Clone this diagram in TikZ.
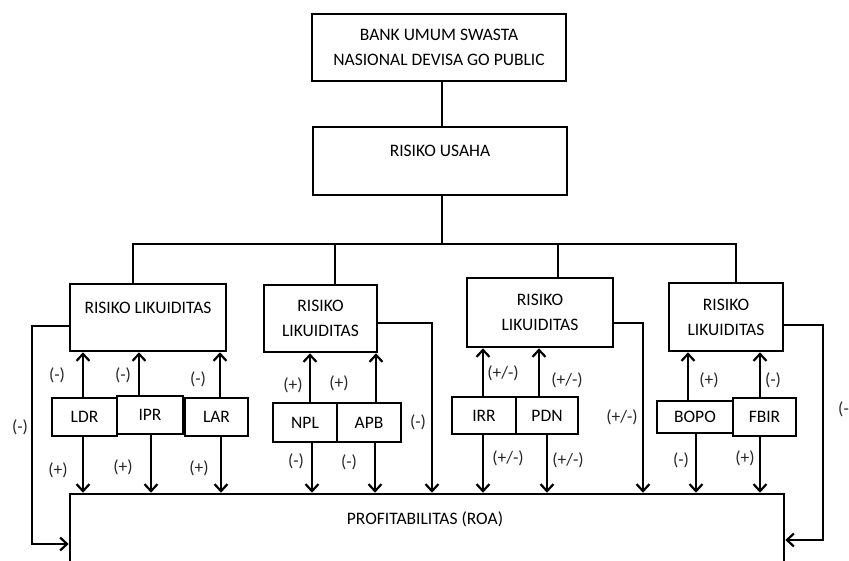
\documentclass[tikz,border=0pt]{standalone}
\usepackage{fontspec}
\setmainfont{Carlito}
\usetikzlibrary{arrows.meta}
\begin{document}
\begin{tikzpicture}[x=1pt,y=-1pt,
  ln/.style={line width=2.6pt},
  arr/.style={ln,-{Straight Barb[length=7pt,width=13pt,line width=2.2pt]}},
  bx/.style={draw,line width=2.6pt,inner sep=0pt,align=center,font=\fontsize{17.5}{25}\selectfont,text=black},
  txt/.style={inner sep=0pt,align=center,font=\fontsize{17.5}{25}\selectfont,text=black},
  lbl/.style={inner sep=0pt,font=\fontsize{17.5}{21}\selectfont,text=black!85}]
\useasboundingbox[fill=white] (0,0) rectangle (849,561);

% top boxes
\node[bx,minimum width=254pt,minimum height=67pt] (bank) at (439,47.5) {BANK UMUM SWASTA\\NASIONAL DEVISA GO PUBLIC};
\node[bx,minimum width=254pt,minimum height=68pt] (usaha) at (440,161) {};
\node[txt] (usahat) at (440,151) {RISIKO USAHA};

% risk boxes
\node[bx,minimum width=156pt,minimum height=67pt] (b1) at (148,317.5) {};
\node[txt] (b1t) at (148,308) {RISIKO LIKUIDITAS};
\node[bx,minimum width=113pt,minimum height=67pt] (b2) at (320.5,318.5) {RISIKO\\LIKUIDITAS};
\node[bx,minimum width=146pt,minimum height=69pt] (b3) at (540,312.5) {RISIKO\\LIKUIDITAS};
\node[bx,minimum width=114pt,minimum height=68pt] (b4) at (726,317) {RISIKO\\LIKUIDITAS};

% small boxes
\node[bx,minimum width=65pt,minimum height=38pt] (ldr) at (84.5,417) {LDR};
\node[bx,minimum width=66pt,minimum height=38pt] (ipr) at (150,415) {IPR};
\node[bx,minimum width=63pt,minimum height=38pt] (lar) at (216.5,417) {LAR};
\node[bx,minimum width=64pt,minimum height=39pt] (npl) at (305,422.5) {NPL};
\node[bx,minimum width=64pt,minimum height=39pt] (apb) at (369,422.5) {APB};
\node[bx,minimum width=64pt,minimum height=37pt] (irr) at (484,415.5) {IRR};
\node[bx,minimum width=62pt,minimum height=37pt] (pdn) at (547,415.5) {PDN};
\node[bx,minimum width=76pt,minimum height=32pt] (bopo) at (695,417) {BOPO};
\node[bx,minimum width=63pt,minimum height=38pt] (fbir) at (764.5,417) {FBIR};

% ROA box
\node[bx,minimum width=714pt,minimum height=110pt] (roa) at (427,549) {};
\node[txt] (roat) at (425,519) {PROFITABILITAS (ROA)};

% tree lines
\draw[ln] (442,0 |- bank.south) -- (442,0 |- usaha.north);
\draw[ln] (442,0 |- usaha.south) -- (442,244);
\draw[ln] (133,0 |- b1.north) -- (133,244) -- (736,244) -- (736,0 |- b4.north);
\draw[ln] (335,244) -- (335,0 |- b2.north);
\draw[ln] (558,244) -- (558,0 |- b3.north);

% up arrows
\draw[arr] (83,0 |- ldr.north) -- (83,0 |- b1.south);
\draw[arr] (139,0 |- ipr.north) -- (139,0 |- b1.south);
\draw[arr] (220,0 |- lar.north) -- (220,0 |- b1.south);
\draw[arr] (310,0 |- npl.north) -- (310,0 |- b2.south);
\draw[arr] (376,0 |- apb.north) -- (376,0 |- b2.south);
\draw[arr] (483,0 |- irr.north) -- (483,0 |- b3.south);
\draw[arr] (539,0 |- pdn.north) -- (539,0 |- b3.south);
\draw[arr] (688,0 |- bopo.north) -- (688,0 |- b4.south);
\draw[arr] (760,0 |- fbir.north) -- (760,0 |- b4.south);

% down arrows
\draw[arr] (83,0 |- ldr.south) -- (83,0 |- roa.north);
\draw[arr] (151,0 |- ipr.south) -- (151,0 |- roa.north);
\draw[arr] (221,0 |- lar.south) -- (221,0 |- roa.north);
\draw[arr] (312,0 |- npl.south) -- (312,0 |- roa.north);
\draw[arr] (375,0 |- apb.south) -- (375,0 |- roa.north);
\draw[arr] (483,0 |- irr.south) -- (483,0 |- roa.north);
\draw[arr] (547,0 |- pdn.south) -- (547,0 |- roa.north);
\draw[arr] (696,0 |- bopo.south) -- (696,0 |- roa.north);
\draw[arr] (760,0 |- fbir.south) -- (760,0 |- roa.north);

% feedback lines
\draw[arr] (b1.west |- 0,326) -- (32,326) -- (32,544) -- (roa.west |- 0,544);
\draw[arr] (b2.east |- 0,323) -- (432,323) -- (432,0 |- roa.north);
\draw[arr] (b3.east |- 0,323) -- (643,323) -- (643,0 |- roa.north);
\draw[arr] (b4.east |- 0,325) -- (823,325) -- (823,540) -- (roa.east |- 0,540);

% labels
\node[lbl] (l1) at (20,427) {(-)};
\node[lbl] (l2) at (57,375) {(-)};
\node[lbl] (l3) at (123,375) {(-)};
\node[lbl] (l4) at (198,379) {(-)};
\node[lbl] (l5) at (58,470) {(+)};
\node[lbl] (l6) at (123,467) {(+)};
\node[lbl] (l7) at (199,468) {(+)};
\node[lbl] (l8) at (293,385) {(+)};
\node[lbl] (l9) at (339,383) {(+)};
\node[lbl] (l10) at (296,461) {(-)};
\node[lbl] (l11) at (349,462) {(-)};
\node[lbl] (l12) at (418,422) {(-)};
\node[lbl] (l13) at (503,373) {(+/-)};
\node[lbl] (l14) at (567,380) {(+/-)};
\node[lbl] (l15) at (508,458) {(+/-)};
\node[lbl] (l16) at (568,460) {(+/-)};
\node[lbl] (l17) at (622,417) {(+/-)};
\node[lbl] (l18) at (709,380) {(+)};
\node[lbl] (l19) at (773,380) {(-)};
\node[lbl] (l20) at (681,460) {(-)};
\node[lbl] (l21) at (745,458) {(+)};
\node[lbl,anchor=west] (l22) at (838,409) {(-)};
\end{tikzpicture}
\end{document}
